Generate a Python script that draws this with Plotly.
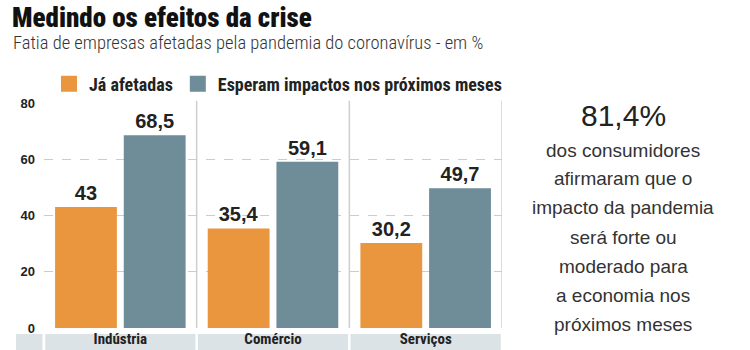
import plotly.graph_objects as go

categories = ["Indústria", "Comércio", "Serviços"]
ja_afetadas = [43, 35.4, 30.2]
esperam = [68.5, 59.1, 49.7]
series_names = ["Já afetadas", "Esperam impactos nos próximos meses"]
y_ticks = [0, 20, 40, 60, 80]

title = "Medindo os efeitos da crise"
subtitle = "Fatia de empresas afetadas pela pandemia do coronavírus - em %"
highlight = "81,4%"
side_lines = ["dos consumidores", "afirmaram que o", "impacto da pandemia",
              "será forte ou", "moderado para", "a economia nos", "próximos meses"]

ORANGE = "#E9963F"
BLUE = "#6F8C99"
COND = "Roboto Condensed, Roboto, sans-serif"
SANS = "Liberation Sans, Arial, sans-serif"

W, H = 750, 350
ML, MR, MT, MB = 44, 248, 103, 22
PW, PH = W - ML - MR, H - MT - MB


def px(x):
    return (x - ML) / PW


def py(y):
    return (H - MB - y) / PH


fig = go.Figure()
colors = [ORANGE, BLUE]
for name, vals, col in zip(series_names, [ja_afetadas, esperam], colors):
    fig.add_trace(go.Bar(x=categories, y=vals, name=name, legendgroup=name, showlegend=False,
                         marker=dict(color=col, line=dict(width=0)),
                         texttemplate="%{y}", textposition="outside", cliponaxis=False,
                         textfont=dict(family=SANS, size=20, color="#222222", weight="bold")))
# legend keys (square swatches)
for name, col in zip(series_names, colors):
    fig.add_trace(go.Scatter(x=[None], y=[None], mode="markers", name=name, legendgroup=name,
                             marker=dict(symbol="square", size=16, color=col),
                             showlegend=True, hoverinfo="skip"))

shapes = []
band_top, band_bot = 334, 352
shapes.append(dict(type="rect", xref="paper", yref="paper", x0=px(16), x1=px(42.5),
                   y0=py(band_bot), y1=py(band_top), fillcolor="#DCE3E7", line=dict(width=0), layer="below"))
for i in range(len(categories)):
    shapes.append(dict(type="rect", xref="x", yref="paper", x0=i - 0.5 + 0.008, x1=i + 0.5 - 0.008,
                       y0=py(band_bot), y1=py(band_top), fillcolor="#DCE3E7", line=dict(width=0), layer="below"))
    shapes.append(dict(type="line", xref="x", yref="paper", x0=i + 0.5, x1=i + 0.5,
                       y0=0, y1=1.01, line=dict(color="#CFCFCF", width=1.5), layer="below"))

annotations = [
    dict(text=title, xref="paper", yref="paper", x=px(10), y=py(18), yshift=0,
         xanchor="left", yanchor="middle", showarrow=False,
         font=dict(family=COND, size=27, color="#111111", weight=900)),
    dict(text=subtitle, xref="paper", yref="paper", x=px(11), y=py(43),
         xanchor="left", yanchor="middle", showarrow=False,
         font=dict(family=COND, size=18.5, color="#333333", weight=300)),
    dict(text=highlight, xref="paper", yref="paper", x=px(623), y=py(115),
         xanchor="center", yanchor="middle", showarrow=False,
         font=dict(family=SANS, size=30, color="#222222")),
]
line_y = [150, 178.5, 207.5, 237, 266.5, 295.5, 324]
for t, yy in zip(side_lines, line_y):
    annotations.append(dict(text=t, xref="paper", yref="paper", x=px(623), y=py(yy),
                            xanchor="center", yanchor="middle", showarrow=False,
                            font=dict(family=SANS, size=19, color="#333333")))

fig.update_layout(
    width=W, height=H, margin=dict(l=ML, r=MR, t=MT, b=MB, autoexpand=False),
    paper_bgcolor="white", plot_bgcolor="white",
    separators=",.",
    barmode="group", bargap=0.1, bargroupgap=0.1,
    showlegend=True,
    legend=dict(orientation="h", x=px(49), y=py(84), xanchor="left", yanchor="middle",
                font=dict(family=COND, size=18, color="#222222", weight="bold"),
                bgcolor="rgba(0,0,0,0)", itemclick=False, itemdoubleclick=False,
                traceorder="normal", itemsizing="trace"),
    xaxis=dict(range=[-0.5, 2.5], showgrid=False, zeroline=False, showline=False,
               ticks="", ticklabelstandoff=0, automargin=False,
               tickfont=dict(family=COND, size=15, color="#222222", weight="bold")),
    yaxis=dict(range=[0, 80], tickvals=y_ticks, showgrid=True, gridcolor="#CCCCCC",
               griddash="dash", gridwidth=1, zeroline=False, showline=False,
               ticks="", ticklabelstandoff=8, automargin=False,
               tickfont=dict(family=SANS, size=13, color="#222222", weight="bold")),
    shapes=shapes, annotations=annotations,
)

fig.write_html("out.html")
